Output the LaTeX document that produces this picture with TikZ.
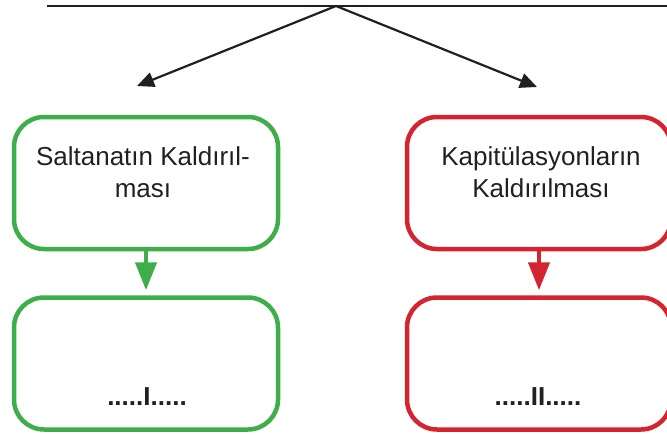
\documentclass[tikz,border=0pt]{standalone}
\usepackage{fontspec}
\setmainfont{Liberation Sans}
\usetikzlibrary{arrows.meta}
\definecolor{gbox}{RGB}{61,174,73}
\definecolor{rbox}{RGB}{211,36,48}
\definecolor{ink}{RGB}{35,31,32}
\begin{document}
\begin{tikzpicture}[x=1pt,y=-1pt,
  box/.style={draw, line width=4.5pt, rounded corners=30pt, minimum width=264pt, minimum height=132pt, inner sep=0pt},
  lbl/.style={text=ink, font=\fontsize{26}{32}\selectfont, align=center, inner sep=0pt},
  blbl/.style={text=ink, font=\fontsize{26}{32}\selectfont\bfseries, inner sep=0pt, anchor=base},
  blk/.style={draw=ink, line width=2.2pt, -{Triangle[length=17pt,width=15pt]}},
  down/.style={line width=4.5pt, -{Triangle[length=28pt,width=21pt]}, shorten >=5pt}]
\useasboundingbox (0,0) rectangle (667,434);
\clip (0,0) rectangle (667,434);
% top line and branches
\coordinate (L) at (47,6);
\coordinate (R) at (667,6);
\coordinate (apex) at (336,6);
\coordinate (tipL) at (137,86);
\coordinate (tipR) at (537,87);
\draw[draw=ink, line width=2.2pt] (L) -- (R);
\draw[blk] (apex) -- (tipL);
\draw[blk] (apex) -- (tipR);
% boxes
\node[box, draw=gbox] (g1) at (146,183) {};
\node[box, draw=gbox] (g2) at (146,363.5) {};
\node[box, draw=rbox] (r1) at (539,183) {};
\node[box, draw=rbox] (r2) at (539,363.5) {};
% texts
\node[lbl, anchor=base] (tg1) at (143,197) {Saltanatın Kaldırıl-\\ması};
\node[lbl, anchor=base] (tr1) at (541,197) {Kapitülasyonların\\Kaldırılması};
\node[blbl] (tg2) at (147,405) {.....I.....};
\node[blbl] (tr2) at (538,405) {.....II.....};
% down arrows
\draw[down, draw=gbox, fill=gbox] (g1.south) -- (g2.north);
\draw[down, draw=rbox, fill=rbox] (r1.south) -- (r2.north);
\end{tikzpicture}
\end{document}
